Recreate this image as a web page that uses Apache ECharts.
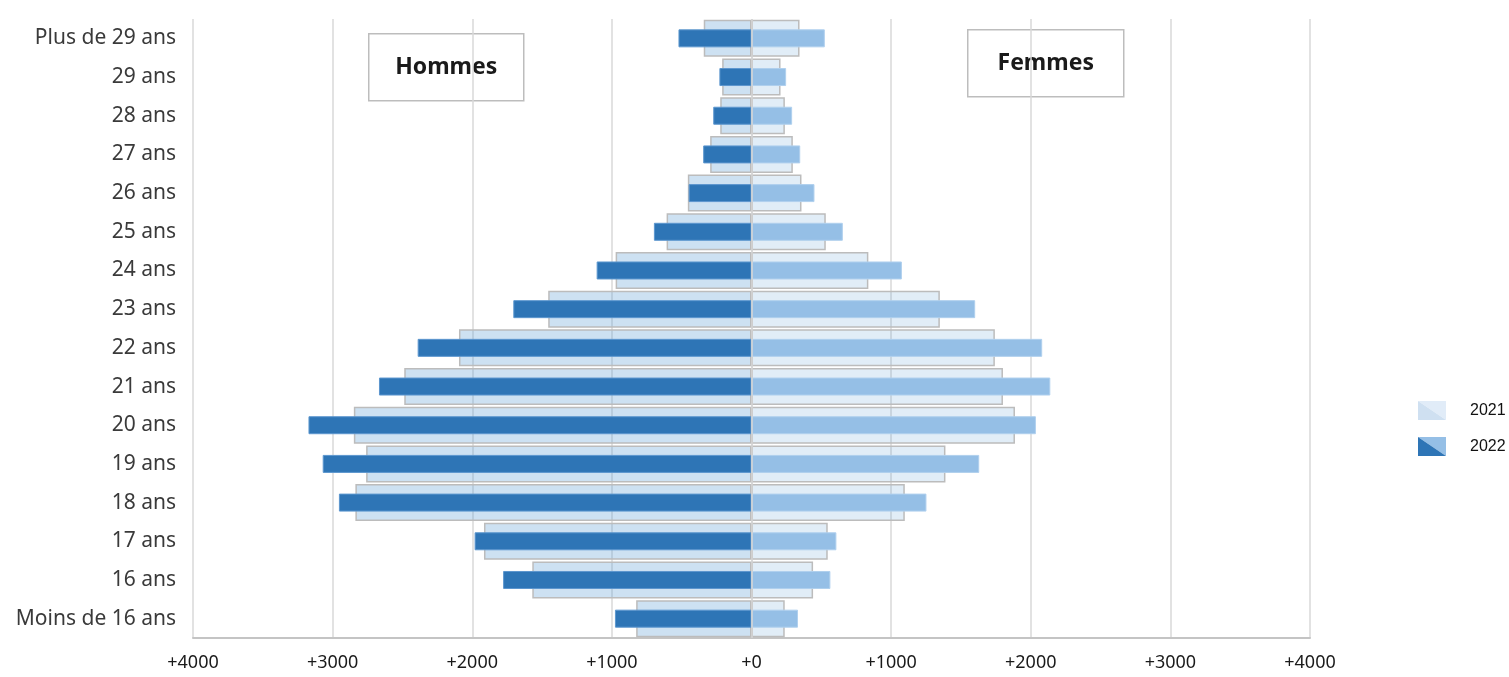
<!DOCTYPE html>
<html>
<head>
<meta charset="utf-8">
<script src="https://cdn.jsdelivr.net/npm/echarts@6/dist/echarts.min.js"></script>
<style>html,body{margin:0;padding:0;background:#fff}#c{width:1509px;height:677px}</style>
</head>
<body>
<div id="c"></div>
<script>
const categories = ['Moins de 16 ans','16 ans','17 ans','18 ans','19 ans','20 ans','21 ans','22 ans','23 ans','24 ans','25 ans','26 ans','27 ans','28 ans','29 ans','Plus de 29 ans'];
const hommes2021 = [826, 1570, 1916, 2837, 2760, 2848, 2487, 2095, 1456, 973, 608, 456, 296, 224, 210, 342];
const femmes2021 = [238, 441, 546, 1098, 1389, 1887, 1801, 1743, 1349, 837, 532, 358, 296, 239, 208, 344];
const hommes2022 = [978, 1779, 1983, 2955, 3071, 3173, 2668, 2391, 1706, 1109, 699, 450, 346, 274, 230, 523];
const femmes2022 = [333, 565, 608, 1253, 1631, 2037, 2140, 2082, 1602, 1077, 654, 451, 349, 291, 248, 525];
const tickValues = [-4000,-3000,-2000,-1000,0,1000,2000,3000,4000];

function icon(a, b) {
  const svg = '<svg xmlns="http://www.w3.org/2000/svg" width="28" height="19" viewBox="0 0 28 19">' +
    '<polygon points="0,0 28,0 28,19" fill="' + b + '"/>' +
    '<polygon points="0,0 0,19 28,19" fill="' + a + '"/></svg>';
  return 'image://data:image/svg+xml;charset=utf-8,' + encodeURIComponent(svg);
}

const chart = echarts.init(document.getElementById('c'));
const FONT = 'Noto Sans';
chart.setOption({
  animation: false,
  textStyle: { fontFamily: FONT },
  grid: { left: 193, right: 199, top: 19, bottom: 39, containLabel: false },
  legend: {
    orient: 'vertical',
    left: 1413,
    top: 396,
    itemWidth: 28,
    itemHeight: 19,
    itemGap: 17,
    textStyle: { fontSize: 16, color: '#111', fontFamily: 'Liberation Sans', padding: [0, 0, 0, 19] },
    data: [
      { name: '2021', icon: icon('#cfe0f1', '#e1ecf8') },
      { name: '2022', icon: icon('#2e75b6', '#95bfe6') }
    ]
  },
  xAxis: {
    type: 'value',
    min: -4000, max: 4000, interval: 1000,
    axisLine: { show: true, lineStyle: { color: '#c4c4c4', width: 2 } },
    axisTick: { show: false },
    splitLine: { show: true, lineStyle: { color: '#d9d9d9', width: 1.5 } },
    axisLabel: {
      margin: 16, fontSize: 18, color: '#1a1a1a', fontFamily: FONT,
      formatter: v => (tickValues.indexOf(v) >= 0 ? '+' + Math.abs(v) : '')
    }
  },
  yAxis: [
    {
      type: 'category', data: categories,
      axisLine: { show: false }, axisTick: { show: false },
      axisLabel: { fontSize: 21, color: '#3a3a3a', margin: 17, fontFamily: FONT }
    },
    {
      type: 'category', data: categories, show: false
    }
  ],
  series: [
    {
      name: '2021', type: 'bar', yAxisIndex: 0, stack: 'y21', barWidth: 37,
      data: hommes2021.map(v => -v),
      itemStyle: { color: 'rgba(91,155,213,0.3)', borderColor: '#bcbcbc', borderWidth: 1.5 }
    },
    {
      name: '2021', type: 'bar', yAxisIndex: 0, stack: 'y21', barWidth: 37,
      data: femmes2021,
      itemStyle: { color: 'rgba(91,155,213,0.18)', borderColor: '#bcbcbc', borderWidth: 1.5 }
    },
    {
      name: '2022', type: 'bar', yAxisIndex: 1, stack: 'y22', barWidth: 18,
      data: hommes2022.map(v => -v),
      itemStyle: { color: '#2e75b6', borderColor: '#5d97cf', borderWidth: 1 }
    },
    {
      name: '2022', type: 'bar', yAxisIndex: 1, stack: 'y22', barWidth: 18,
      data: femmes2022,
      itemStyle: { color: '#95bfe6', borderColor: '#b0d0ee', borderWidth: 1 },
      markLine: {
        silent: true, symbol: 'none', label: { show: false },
        lineStyle: { color: '#d4d4d4', width: 1.5, type: 'solid' },
        data: [{ xAxis: 0 }]
      }
    }
  ],
  graphic: [
    {
      type: 'group', left: 368, top: 33,
      children: [
        { type: 'rect', shape: { x: 0, y: 0, width: 155, height: 67 }, style: { fill: '#fff', stroke: '#bdbdbd', lineWidth: 1.5 } },
        { type: 'text', x: 77.5, y: 33.5, style: { text: 'Hommes', fontSize: 23, fontWeight: 'bold', fontFamily: FONT, fill: '#1a1a1a', align: 'center', verticalAlign: 'middle' } }
      ]
    },
    {
      type: 'group', left: 967, top: 29,
      children: [
        { type: 'rect', shape: { x: 0, y: 0, width: 156, height: 67 }, style: { fill: '#fff', stroke: '#bdbdbd', lineWidth: 1.5 } },
        { type: 'text', x: 78, y: 33.5, style: { text: 'Femmes', fontSize: 23, fontWeight: 'bold', fontFamily: FONT, fill: '#1a1a1a', align: 'center', verticalAlign: 'middle' } }
      ]
    }
  ]
});
</script>
</body>
</html>
